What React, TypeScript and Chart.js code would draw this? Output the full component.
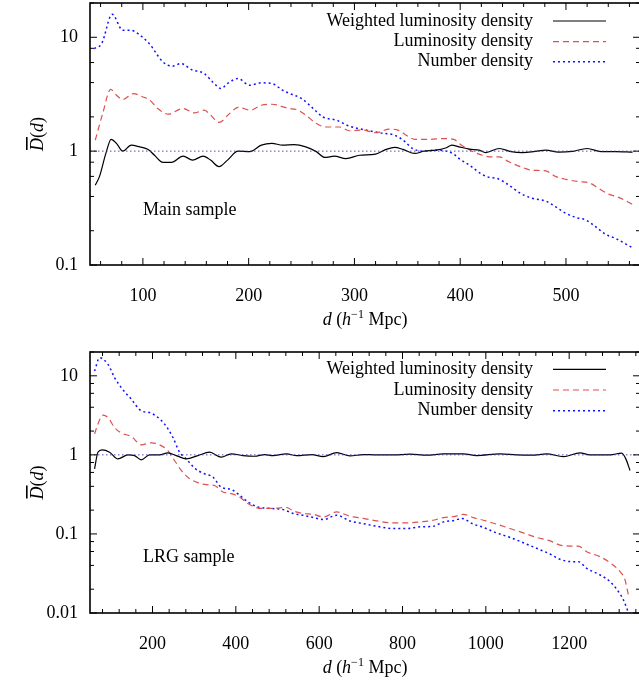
import React, { useEffect, useRef } from "react";
import { Chart, registerables } from "chart.js";
Chart.register(...registerables);

const FONT = '"Liberation Serif", "Times New Roman", serif';

// ---------- Main sample ----------
const mainWeightedX = [55, 59, 65, 70, 75, 81, 89, 97, 105, 111, 119, 127, 138, 147, 157, 164, 172, 180, 190, 201, 212, 222, 232, 243, 254, 264, 272, 281, 292, 305, 320, 330, 338, 346, 357, 366, 377, 387, 392, 399, 409, 418, 424, 437, 448, 459, 471, 481, 493, 506, 520, 534, 547, 563];
const mainWeightedY = [0.503, 0.6, 0.955, 1.27, 1.17, 1.0, 1.13, 1.09, 1.035, 0.92, 0.796, 0.796, 0.904, 0.834, 0.904, 0.834, 0.73, 0.834, 1.0, 0.99, 1.13, 1.17, 1.13, 1.14, 1.09, 0.99, 0.88, 0.904, 0.86, 0.92, 0.94, 1.035, 1.08, 1.035, 0.955, 1.0, 1.02, 1.07, 1.13, 1.09, 1.04, 1.02, 0.97, 1.055, 0.99, 0.97, 0.995, 1.02, 0.98, 0.995, 1.055, 0.99, 0.99, 0.98];

const mainLumX = [55, 62, 69.5, 75, 81, 91, 100, 106, 114, 124, 138, 149, 158, 164, 172, 182, 190, 202, 212, 222, 238, 245, 254, 264, 273, 286, 295, 308, 320, 333, 341, 349, 357, 371, 383, 394, 399, 408, 421, 429, 437, 446, 457, 468, 481, 490, 500, 512, 522, 531, 541, 550, 563];
const mainLumY = [1.25, 2.14, 3.48, 3.1, 2.84, 3.2, 2.99, 2.84, 2.37, 2.11, 2.37, 2.17, 2.29, 2.07, 1.79, 2.14, 2.42, 2.29, 2.53, 2.58, 2.37, 2.32, 2.07, 1.75, 1.63, 1.63, 1.51, 1.53, 1.45, 1.56, 1.53, 1.38, 1.27, 1.27, 1.29, 1.27, 1.17, 1.035, 0.92, 0.89, 0.89, 0.806, 0.73, 0.68, 0.67, 0.6, 0.565, 0.54, 0.527, 0.47, 0.417, 0.393, 0.34];

const mainNumX = [54, 61, 71, 81, 89, 95, 106, 119, 128, 136, 146, 158, 166, 174, 180, 190, 201, 212, 222, 232, 239, 250, 261, 270, 283, 295, 308, 324, 338, 346, 355, 365, 377, 387, 394, 399, 409, 420, 427, 435, 446, 457, 468, 481, 490, 500, 509, 519, 528, 537, 547, 562];
const mainNumY = [7.96, 8.8, 15.9, 11.5, 11.5, 10.8, 8.8, 6.07, 5.57, 5.88, 5.2, 4.8, 4.05, 3.55, 3.93, 4.34, 3.79, 3.98, 3.93, 3.43, 3.2, 2.9, 2.37, 2.0, 1.87, 1.66, 1.55, 1.45, 1.38, 1.25, 1.055, 1.0, 1.02, 1.0, 0.94, 0.86, 0.75, 0.63, 0.59, 0.575, 0.503, 0.426, 0.385, 0.364, 0.325, 0.284, 0.262, 0.248, 0.217, 0.187, 0.171, 0.143];

// ---------- LRG sample ----------
const lrgWeightedX = [61, 69, 79, 97, 117, 141, 157, 173, 193, 217, 237, 257, 281, 309, 337, 365, 389, 417, 445, 469, 489, 522, 546, 582, 610, 642, 674, 706, 738, 778, 818, 858, 898, 946, 978, 1034, 1074, 1110, 1146, 1186, 1226, 1250, 1298, 1326, 1336, 1346];
const lrgWeightedY = [0.667, 1.08, 1.155, 1.08, 0.89, 1.0, 0.98, 0.865, 1.0, 1.0, 1.06, 0.98, 0.89, 0.98, 1.08, 0.935, 1.03, 0.98, 0.96, 1.01, 0.98, 1.03, 0.98, 1.01, 0.95, 1.07, 0.97, 1.01, 1.0, 1.0, 1.02, 0.99, 1.03, 1.03, 0.98, 1.03, 1.0, 0.99, 1.03, 0.95, 1.06, 1.0, 1.0, 1.05, 0.89, 0.635];

const lrgLumX = [61, 69, 81, 93, 109, 125, 149, 173, 197, 217, 237, 253, 269, 289, 309, 329, 349, 369, 389, 409, 429, 461, 485, 522, 538, 562, 586, 610, 642, 674, 706, 738, 778, 810, 842, 874, 898, 926, 946, 970, 994, 1026, 1058, 1090, 1122, 1154, 1178, 1202, 1222, 1242, 1274, 1298, 1322, 1334, 1342];
const lrgLumY = [1.84, 2.45, 3.19, 2.97, 2.22, 1.89, 1.71, 1.34, 1.42, 1.34, 1.13, 0.848, 0.635, 0.5, 0.445, 0.42, 0.41, 0.339, 0.323, 0.293, 0.242, 0.21, 0.21, 0.216, 0.195, 0.181, 0.177, 0.164, 0.19, 0.167, 0.157, 0.146, 0.138, 0.138, 0.142, 0.149, 0.161, 0.167, 0.177, 0.161, 0.149, 0.133, 0.117, 0.103, 0.0903, 0.0818, 0.0723, 0.0703, 0.0703, 0.0596, 0.0515, 0.0433, 0.0334, 0.0262, 0.017];

const lrgNumX = [61, 73, 93, 109, 125, 149, 173, 193, 213, 229, 249, 265, 281, 301, 321, 345, 365, 389, 409, 429, 453, 483, 514, 538, 562, 586, 610, 642, 674, 706, 738, 778, 810, 842, 874, 898, 926, 942, 970, 994, 1026, 1058, 1090, 1122, 1154, 1178, 1206, 1222, 1242, 1274, 1298, 1318, 1330, 1342];
const lrgNumY = [11.5, 16.9, 14, 9.5, 7.1, 5.06, 3.6, 3.43, 2.97, 2.45, 1.66, 1.08, 0.89, 0.68, 0.587, 0.523, 0.39, 0.366, 0.308, 0.254, 0.219, 0.21, 0.203, 0.181, 0.172, 0.161, 0.152, 0.172, 0.146, 0.135, 0.125, 0.117, 0.117, 0.123, 0.125, 0.142, 0.149, 0.157, 0.133, 0.121, 0.103, 0.0903, 0.0773, 0.0658, 0.0557, 0.0478, 0.0446, 0.0446, 0.0368, 0.0303, 0.025, 0.0187, 0.0147, 0.0102];

// ---------- ticks & labels ----------
const mainXTicks = [100, 200, 300, 400, 500];
const mainYTicks = [0.1, 1, 10];
const lrgXTicks = [200, 400, 600, 800, 1000, 1200];
const lrgYTicks = [0.01, 0.1, 1, 10];
const legendLabels = ["Weighted luminosity density", "Luminosity density", "Number density"];
const mainLabel = "Main sample";
const lrgLabel = "LRG sample";

const pts = (xs: number[], ys: number[]) => xs.map((x, i) => ({ x, y: ys[i] }));

const gpPlugin = {
  id: "gp",
  afterDraw(chart: any) {
    const o = chart.options.plugins.gp;
    const ctx = chart.ctx;
    const { left, right, top, bottom } = chart.chartArea;
    const xs = chart.scales.x;
    const ys = chart.scales.y;
    ctx.save();
    ctx.strokeStyle = "#000";
    ctx.fillStyle = "#000";
    ctx.setLineDash([]);
    ctx.lineWidth = 1;
    const tick = (x1: number, y1: number, x2: number, y2: number) => {
      ctx.beginPath();
      ctx.moveTo(x1, y1);
      ctx.lineTo(x2, y2);
      ctx.stroke();
    };
    const MAJ = 7, MIN = 4;
    for (let v = o.xMinorStep; v < o.xMax; v += o.xMinorStep) {
      if (v <= o.xMin) continue;
      const isMaj = o.xTicks.includes(v);
      const L = isMaj ? MAJ : MIN;
      const px = xs.getPixelForValue(v);
      tick(px, bottom, px, bottom - L);
      tick(px, top, px, top + L);
    }
    for (const dec of [0.001, 0.01, 0.1, 1, 10]) {
      for (const m of [1, 2, 4, 6, 8]) {
        const v = dec * m;
        if (v < o.yMin * 0.999 || v > o.yMax * 1.001) continue;
        const L = m === 1 ? MAJ : MIN;
        const py = ys.getPixelForValue(v);
        tick(left, py, left + L, py);
        tick(right, py, right - L, py);
      }
    }
    ctx.lineWidth = 1.6;
    ctx.strokeRect(left, top, right - left, bottom - top);

    // legend
    ctx.font = `18px ${FONT}`;
    ctx.textAlign = "right";
    ctx.textBaseline = "middle";
    const dsets = chart.data.datasets.slice(1);
    dsets.forEach((ds: any, i: number) => {
      const y = o.legendY[i];
      ctx.fillText(legendLabels[i], 533, y);
      ctx.save();
      ctx.strokeStyle = ds.borderColor;
      ctx.lineWidth = ds.borderWidth;
      ctx.setLineDash(ds.borderDash || []);
      ctx.beginPath();
      ctx.moveTo(553, y);
      ctx.lineTo(606, y);
      ctx.stroke();
      ctx.restore();
    });

    ctx.textAlign = "left";
    ctx.textBaseline = "alphabetic";
    ctx.fillText(o.label, 143, o.labelY);

    // x title
    const parts = [
      { t: "d", f: `italic 18px ${FONT}`, dy: 0 },
      { t: " (", f: `18px ${FONT}`, dy: 0 },
      { t: "h", f: `italic 18px ${FONT}`, dy: 0 },
      { t: "\u22121", f: `12px ${FONT}`, dy: -7 },
      { t: " Mpc)", f: `18px ${FONT}`, dy: 0 },
    ];
    let w = 0;
    parts.forEach((p) => {
      ctx.font = p.f;
      w += ctx.measureText(p.t).width;
    });
    let cx = (left + right) / 2 - w / 2;
    const by = bottom + 60;
    parts.forEach((p) => {
      ctx.font = p.f;
      ctx.fillText(p.t, cx, by + p.dy);
      cx += ctx.measureText(p.t).width;
    });

    // y title
    ctx.save();
    ctx.translate(43, (top + bottom) / 2);
    ctx.rotate(-Math.PI / 2);
    const yparts = [
      { t: "D", f: `italic 18px ${FONT}` },
      { t: "(", f: `18px ${FONT}` },
      { t: "d", f: `italic 18px ${FONT}` },
      { t: ")", f: `18px ${FONT}` },
    ];
    let yw = 0;
    yparts.forEach((p) => {
      ctx.font = p.f;
      yw += ctx.measureText(p.t).width;
    });
    let yx = -yw / 2;
    yparts.forEach((p, i) => {
      ctx.font = p.f;
      const mw = ctx.measureText(p.t).width;
      ctx.fillText(p.t, yx, 0);
      if (i === 0) ctx.fillRect(yx + 1, -17, mw, 1.6);
      yx += mw;
    });
    ctx.restore();
    ctx.restore();
  },
};

type Cfg = {
  h: number;
  padTop: number;
  xHeight: number;
  xMin: number;
  xMax: number;
  yMin: number;
  yMax: number;
  xTicks: number[];
  yTicks: number[];
  xMinorStep: number;
  legendY: number[];
  label: string;
  labelY: number;
  series: { x: number[]; y: number[] }[];
};

const W = 650;

const zeroPad = (s: any) => {
  s.paddingTop = 0;
  s.paddingBottom = 0;
  s.paddingLeft = 0;
  s.paddingRight = 0;
};

function Panel({ cfg }: { cfg: Cfg }) {
  const ref = useRef<HTMLCanvasElement | null>(null);
  useEffect(() => {
    const styles = [
      { borderColor: "#000000", borderWidth: 1.2, borderDash: [] as number[] },
      { borderColor: "#dd5050", borderWidth: 1.2, borderDash: [6, 4] },
      { borderColor: "#1010ff", borderWidth: 1.5, borderDash: [2, 3] },
    ];
    const chart = new Chart(ref.current as HTMLCanvasElement, {
      type: "line",
      data: {
        datasets: [
          {
            label: "ref",
            data: [
              { x: cfg.xMin, y: 1 },
              { x: cfg.xMax, y: 1 },
            ],
            borderColor: "rgba(60,60,170,0.9)",
            borderWidth: 1,
            borderDash: [1.5, 2.5],
            pointRadius: 0,
          },
          ...cfg.series.map((s, i) => ({
            label: legendLabels[i],
            data: pts(s.x, s.y),
            ...styles[i],
            pointRadius: 0,
            cubicInterpolationMode: "monotone" as const,
            fill: false,
          })),
        ],
      },
      options: {
        responsive: false,
        animation: false,
        devicePixelRatio: 1,
        layout: { padding: { top: cfg.padTop, right: W - 640, left: 0, bottom: 0 } },
        plugins: {
          legend: { display: false },
          tooltip: { enabled: false },
          gp: {
            xMin: cfg.xMin,
            xMax: cfg.xMax,
            yMin: cfg.yMin,
            yMax: cfg.yMax,
            xTicks: cfg.xTicks,
            xMinorStep: cfg.xMinorStep,
            legendY: cfg.legendY,
            label: cfg.label,
            labelY: cfg.labelY,
          },
        } as any,
        scales: {
          x: {
            type: "linear",
            min: cfg.xMin,
            max: cfg.xMax,
            grid: { display: false, drawTicks: false },
            border: { display: false },
            afterBuildTicks: (s: any) => {
              s.ticks = cfg.xTicks.map((v) => ({ value: v }));
            },
            afterFit: (s: any) => {
              s.height = cfg.xHeight;
              zeroPad(s);
            },
            ticks: {
              autoSkip: false,
              maxRotation: 0,
              color: "#000",
              padding: 20,
              font: { family: FONT, size: 18 },
              callback: (v: any) => String(v),
            },
          },
          y: {
            type: "logarithmic",
            min: cfg.yMin,
            max: cfg.yMax,
            grid: { display: false, drawTicks: false },
            border: { display: false },
            afterBuildTicks: (s: any) => {
              s.ticks = cfg.yTicks.map((v) => ({ value: v }));
            },
            afterFit: (s: any) => {
              s.width = 90;
              zeroPad(s);
            },
            ticks: {
              autoSkip: false,
              color: "#000",
              padding: 12,
              font: { family: FONT, size: 18 },
              callback: (v: any) => String(v),
            },
          },
        },
      },
      plugins: [gpPlugin],
    } as any);
    return () => chart.destroy();
  }, [cfg]);
  return <canvas ref={ref} width={W} height={cfg.h} style={{ display: "block", width: W, height: cfg.h }} />;
}

const mainCfg: Cfg = {
  h: 340,
  padTop: 3,
  xHeight: 75,
  xMin: 50,
  xMax: 570,
  yMin: 0.1,
  yMax: 20,
  xTicks: mainXTicks,
  yTicks: mainYTicks,
  xMinorStep: 20,
  legendY: [21, 41.7, 61.7],
  label: mainLabel,
  labelY: 215,
  series: [
    { x: mainWeightedX, y: mainWeightedY },
    { x: mainLumX, y: mainLumY },
    { x: mainNumX, y: mainNumY },
  ],
};

const lrgCfg: Cfg = {
  h: 346,
  padTop: 12,
  xHeight: 73,
  xMin: 50,
  xMax: 1370,
  yMin: 0.01,
  yMax: 20,
  xTicks: lrgXTicks,
  yTicks: lrgYTicks,
  xMinorStep: 40,
  legendY: [29.3, 50, 70.7],
  label: lrgLabel,
  labelY: 221.7,
  series: [
    { x: lrgWeightedX, y: lrgWeightedY },
    { x: lrgLumX, y: lrgLumY },
    { x: lrgNumX, y: lrgNumY },
  ],
};

export default function App() {
  return (
    <div style={{ position: "absolute", left: 0, top: 0, width: 639, height: 686, overflow: "hidden", background: "#fff" }}>
      <div style={{ position: "absolute", left: 0, top: 0 }}>
        <Panel cfg={mainCfg} />
      </div>
      <div style={{ position: "absolute", left: 0, top: 340 }}>
        <Panel cfg={lrgCfg} />
      </div>
    </div>
  );
}
